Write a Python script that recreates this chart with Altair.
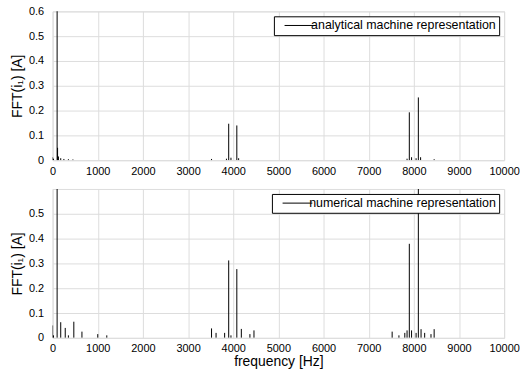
import altair as alt
import pandas as pd

# ---- data ----
top_freq = [0, 20, 100, 110, 130, 180, 250, 350, 450, 3520, 3850, 3900, 3950,
            4080, 4120, 7850, 7900, 7950, 8050, 8100, 8150, 8450]
top_amp = [0.012, 0.006, 0.62, 0.05, 0.015, 0.008, 0.005, 0.004, 0.003, 0.005,
           0.006, 0.147, 0.01, 0.140, 0.008, 0.006, 0.193, 0.012, 0.008, 0.253,
           0.012, 0.004]

bot_freq = [0, 20, 100, 180, 280, 350, 470, 650, 1000, 1200, 3520, 3620, 3810,
            3900, 3950, 4080, 4180, 4370, 4460, 7520, 7670, 7800, 7850, 7900,
            7950, 8050, 8100, 8160, 8240, 8380, 8450]
bot_amp = [0.05, 0.01, 0.62, 0.063, 0.04, 0.01, 0.065, 0.025, 0.015, 0.01,
           0.038, 0.02, 0.02, 0.312, 0.01, 0.277, 0.036, 0.015, 0.03, 0.025,
           0.01, 0.02, 0.03, 0.379, 0.03, 0.02, 0.62, 0.035, 0.02, 0.015, 0.035]

x_ticks = [0, 1000, 2000, 3000, 4000, 5000, 6000, 7000, 8000, 9000, 10000]
top_y_ticks = [0, 0.1, 0.2, 0.3, 0.4, 0.5, 0.6]
bot_y_ticks = [0, 0.1, 0.2, 0.3, 0.4, 0.5]

FONT = "Liberation Sans, DejaVu Sans, sans-serif"
W, H = 455, 150


def panel(freq, amp, name, yticks, show_xtitle):
    df = pd.DataFrame({"freq": freq, "amp": amp, "series": name})
    x_axis = alt.Axis(values=x_ticks, format="d", title="frequency [Hz]" if show_xtitle else None,
                      grid=True, tickSize=0, labelPadding=5, labelFontSize=11,
                      titleFontSize=14, titlePadding=1, domain=False,
                      labelFlush=False, titleFontWeight="normal", titleFont=FONT,
                      labelFont=FONT)
    y_axis = alt.Axis(values=yticks, format="~g", title="FFT(i₁) [A]", grid=True,
                      tickSize=0, labelPadding=9, labelFontSize=11, titleFontSize=14,
                      titlePadding=4, domain=False, titleFontWeight="normal",
                      titleFont=FONT, labelFont=FONT)
    return alt.Chart(df).mark_rule(strokeWidth=1, clip=True).encode(
        x=alt.X("freq:Q", scale=alt.Scale(domain=[0, 10000], nice=False), axis=x_axis),
        y=alt.Y("amp:Q", scale=alt.Scale(domain=[0, 0.6], nice=False), axis=y_axis),
        y2=alt.datum(0),
        color=alt.Color("series:N", scale=alt.Scale(range=["black"]),
                        legend=alt.Legend(title=None, orient="top-right", offset=5,
                                          fillColor="white", strokeColor="black",
                                          padding=3, symbolType="M0.3,0H6.3", symbolSize=100,
                                          symbolStrokeWidth=1, symbolStrokeColor="black",
                                          labelOffset=22, labelLimit=400,
                                          labelFontSize=12.5, labelFont=FONT,
                                          labelColor="black")),
    ).properties(width=W, height=H)


top = panel(top_freq, top_amp, "analytical machine representation", top_y_ticks, False)
bot = panel(bot_freq, bot_amp, "numerical machine representation", bot_y_ticks, True)

chart = alt.vconcat(top, bot, spacing=29).resolve_scale(color="independent").properties(
    padding={"left": 10, "top": 3, "right": 2, "bottom": 2},
    bounds="flush",
).configure_view(stroke="black", strokeWidth=1).configure_axis(
    gridColor="#555", gridDash=[1, 3], gridWidth=1, gridOpacity=1,
    labelColor="black", titleColor="black",
).configure(background="white")

chart.save("out.html", embed_options={"renderer": "svg", "actions": False})
